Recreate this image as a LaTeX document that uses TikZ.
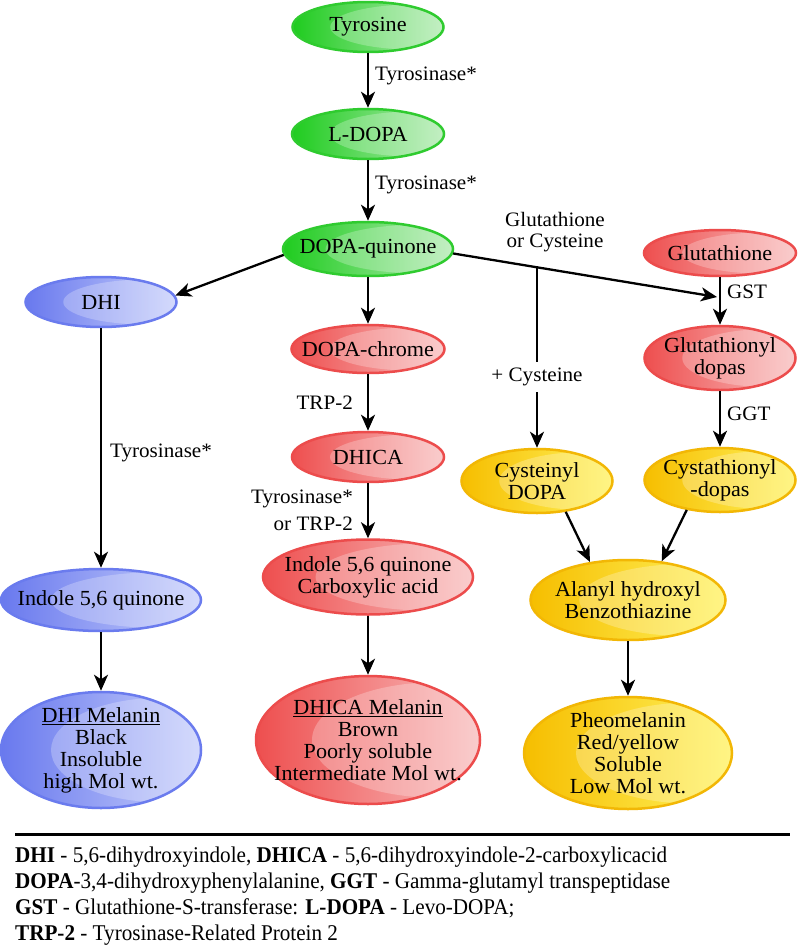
\documentclass[tikz,border=0pt]{standalone}
\usepackage{fontspec}
\setmainfont{Liberation Serif}
\newfontfamily\nfont{Liberation Serif}[FakeStretch=1.03]
\newfontfamily\lfont{Liberation Serif}[FakeStretch=0.94]
\usetikzlibrary{shapes.geometric,arrows.meta,calc}
\definecolor{gB}{HTML}{2FCB2F}
\definecolor{gD}{HTML}{1FCC1F}
\definecolor{gL}{HTML}{B0EAB0}
\definecolor{rB}{HTML}{EC4C4C}
\definecolor{rD}{HTML}{EE4F4F}
\definecolor{rL}{HTML}{F8BCBC}
\definecolor{bB}{HTML}{6A7BEE}
\definecolor{bD}{HTML}{6979EE}
\definecolor{bL}{HTML}{C6CEFB}
\definecolor{yB}{HTML}{F2B705}
\definecolor{yD}{HTML}{F6BE00}
\definecolor{yL}{HTML}{FFF25C}
\tikzset{
  ell/.style n args={3}{ellipse, draw=#1B, line width=2.5pt, left color=#1D, right color=#1L,
    minimum width=#2, minimum height=#3, inner sep=0pt,
    path picture={\fill[white,opacity=.25] ($(path picture bounding box.center)+(0.3*#2,0pt)$)
      ellipse ({0.55*#2} and {0.45*#3});}},
  txt/.style={font=\nfont\fontsize{21.5}{22}\selectfont, align=center, inner sep=0pt},
  lbl/.style={font=\nfont\fontsize{20.5}{21.5}\selectfont, align=center, inner sep=2pt},
  arr/.style={line width=2.3pt, -{Stealth[length=16pt,width=14pt,inset=4.5pt]}},
}
\newcommand\bub[6]{\node[ell={#1}{#4}{#5}] (#2) at (#3) {}; \node[txt] (#2t) at (#2) {#6};}
\begin{document}
\begin{tikzpicture}[x=1pt,y=-1pt]
\fill[white] (0,0) rectangle (800,948);
\useasboundingbox (0,0) rectangle (800,948);

% green column
\bub{g}{tyr}{368,27}{151pt}{50pt}{Tyrosine}
\bub{g}{ldopa}{368,134}{152pt}{50pt}{L-DOPA}
\bub{g}{dq}{368,249}{170pt}{54pt}{DOPA-quinone}

% blue column
\bub{b}{dhi}{101,302}{151pt}{50pt}{DHI}
\bub{b}{iq}{101,600}{200pt}{62pt}{Indole 5,6 quinone}
\bub{b}{dhim}{101,750}{200pt}{116pt}{\underline{DHI Melanin}\\Black\\Insoluble\\high Mol wt.}

% red middle column
\bub{r}{dc}{368,349}{153pt}{48pt}{DOPA-chrome}
\bub{r}{dhica}{368,457}{152pt}{50pt}{DHICA}
\bub{r}{ica}{368,577}{210pt}{75pt}{Indole 5,6 quinone\\Carboxylic acid}
\bub{r}{dhicam}{368,740}{224pt}{128pt}{\underline{DHICA Melanin}\\Brown\\Poorly soluble\\Intermediate Mol wt.}

% right columns
\bub{r}{glu}{720,253}{152pt}{46pt}{Glutathione}
\bub{r}{glud}{720,358}{151pt}{64pt}{Glutathionyl\\dopas}
\bub{y}{cysd}{537,481}{151pt}{64pt}{Cysteinyl\\DOPA}
\bub{y}{cyst}{720,480}{151pt}{64pt}{Cystathionyl\\-dopas}
\bub{y}{ala}{628,600}{195pt}{80pt}{Alanyl hydroxyl\\Benzothiazine}
\bub{y}{pheo}{628,753}{208pt}{112pt}{Pheomelanin\\Red/yellow\\Soluble\\Low Mol wt.}

% connectors
\draw[arr] (tyr) -- node[lbl,pos=.42,right=4pt] (l1) {Tyrosinase*} (ldopa);
\draw[arr] (ldopa) -- node[lbl,pos=.4,right=4pt] (l2) {Tyrosinase*} (dq);
\draw[arr] (dq.184) -- (dhi.5);
\draw[arr] (dq) -- (dc);
\draw[arr] (dc) -- node[lbl,pos=.5,left=12pt] (l3) {TRP-2} (dhica);
\draw[arr] (dhica) -- node[lbl,pos=.5,left=12pt,align=right,font=\nfont\fontsize{20.5}{27}\selectfont] (l4) {Tyrosinase*\\or TRP-2} (ica);
\draw[arr] (ica) -- (dhicam);
\draw[arr] (dhi) -- node[lbl,pos=.52,right=6pt] (l5) {Tyrosinase*} (iq);
\draw[arr] (iq) -- (dhim);

\coordinate (gj) at (717,297);
\coordinate (gc) at (537,266);
\draw[arr] (dq.-3) -- (gj);
\draw[arr] (glu) -- node[lbl,pos=.3,right=4pt] (l6) {GST} (glud);
\draw[arr] (glud) -- node[lbl,pos=.4,right=4pt] (l7) {GGT} (cyst);
\draw[arr] (gc) -- node[lbl,pos=.61,fill=white,inner ysep=6pt] (l8) {+ Cysteine} (cysd);
\node[lbl] (l9) at (555,232) {Glutathione\\or Cysteine};
\draw[arr] (cysd.-47) -- (ala.135);
\draw[arr] (cyst.222) -- (ala.49);
\draw[arr] (ala) -- (pheo);

% legend
\coordinate (r1) at (15,834);
\coordinate (r2) at (790,834);
\draw[line width=3pt] (r1) -- (r2);
\node[anchor=north west, align=left, inner sep=0pt, font=\lfont\fontsize{22.5}{26}\selectfont] (leg) at (15,847)
{\textbf{DHI} - 5,6-dihydroxyindole, \textbf{DHICA} - 5,6-dihydroxyindole-2-carboxylicacid\\
\textbf{DOPA}-3,4-dihydroxyphenylalanine, \textbf{GGT} - Gamma-glutamyl transpeptidase\\
\textbf{GST} - Glutathione-S-transferase: \textbf{L-DOPA} - Levo-DOPA;\\
\textbf{TRP-2} - Tyrosinase-Related Protein 2};
\end{tikzpicture}
\end{document}
